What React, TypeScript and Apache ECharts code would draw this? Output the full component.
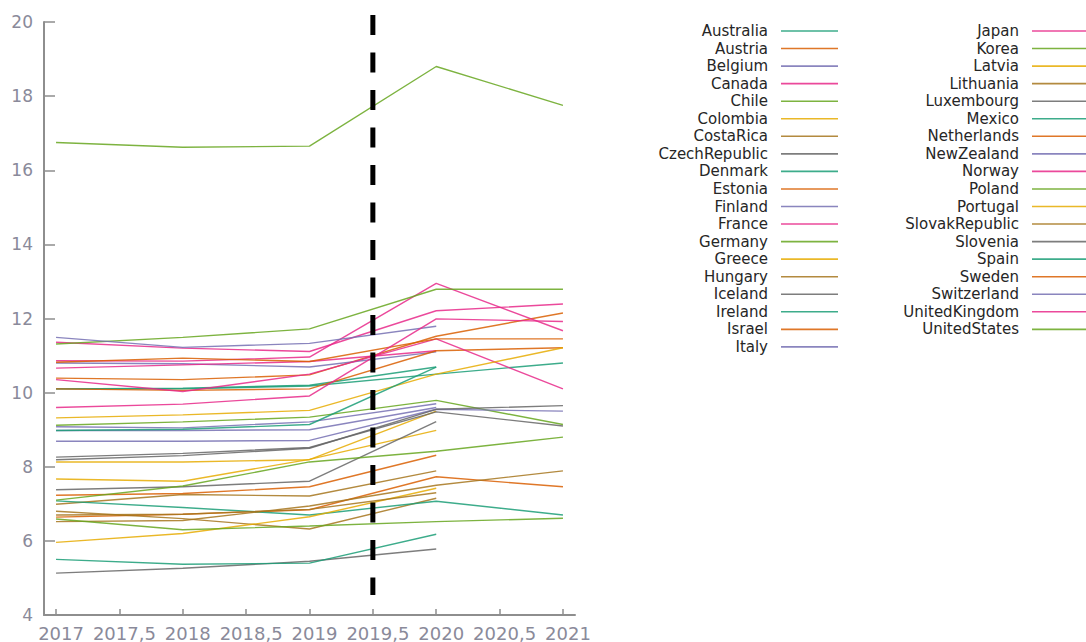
import React, { useEffect, useRef } from "react";
import * as echarts from "echarts";

const years = [2017, 2018, 2019, 2020, 2021];
const xTicks = [2017, 2017.5, 2018, 2018.5, 2019, 2019.5, 2020, 2020.5, 2021];

const countries = [
  "Australia", "Austria", "Belgium", "Canada", "Chile", "Colombia", "CostaRica", "CzechRepublic",
  "Denmark", "Estonia", "Finland", "France", "Germany", "Greece", "Hungary", "Iceland", "Ireland",
  "Israel", "Italy", "Japan", "Korea", "Latvia", "Lithuania", "Luxembourg", "Mexico", "Netherlands",
  "NewZealand", "Norway", "Poland", "Portugal", "SlovakRepublic", "Slovenia", "Spain", "Sweden",
  "Switzerland", "UnitedKingdom", "UnitedStates",
];

const Australia = [10.1, 10.12, 10.2, 10.69, null];
const Austria = [10.39, 10.35, 10.48, 11.52, 12.15];
const Belgium = [10.8, 10.78, 10.69, 11.1, null];
const Canada = [10.86, 10.85, 10.96, 12.95, 11.67];
const Chile = [9.12, 9.21, 9.34, 9.79, 9.14];
const Colombia = [7.67, 7.61, 8.2, 8.98, null];
const CostaRica = [6.99, 7.25, 7.21, 7.89, null];
const CzechRepublic = [7.38, 7.46, 7.61, 9.22, null];
const Denmark = [10.1, 10.1, 10.18, 10.5, 10.8];
const Estonia = [6.64, 6.72, 6.84, 7.73, 7.46];
const Finland = [9.08, 9.05, 9.21, 9.7, null];
const France = [11.36, 11.2, 11.11, 12.21, 12.39];
const Germany = [11.31, 11.49, 11.72, 12.79, 12.79];
const Greece = [8.13, 8.13, 8.19, 9.5, null];
const Hungary = [6.8, 6.6, 6.32, 7.15, null];
const Iceland = [8.26, 8.36, 8.52, 9.48, 9.1];
const Ireland = [7.08, 6.9, 6.7, 7.07, 6.7];
const Israel = [7.23, 7.28, 7.46, 8.31, null];
const Italy = [8.69, 8.69, 8.71, 9.55, 9.5];
const Japan = [10.66, 10.75, 10.84, 11.13, null];
const Korea = [7.1, 7.48, 8.13, 8.42, 8.8];
const Latvia = [5.96, 6.2, 6.65, 7.42, null];
const Lithuania = [6.52, 6.55, 6.94, 7.5, 7.89];
const Luxembourg = [5.13, 5.26, 5.45, 5.78, null];
const Mexico = [5.5, 5.37, 5.4, 6.18, null];
const Netherlands = [10.1, 10.06, 10.1, 11.13, 11.21];
const NewZealand = [8.98, 8.98, 9.0, 9.6, null];
const Norway = [10.35, 10.03, 10.5, 11.45, 10.1];
const Poland = [6.59, 6.3, 6.4, 6.52, 6.61];
const Portugal = [9.32, 9.4, 9.52, 10.5, 11.21];
const SlovakRepublic = [6.7, 6.72, 6.85, 7.3, null];
const Slovenia = [8.19, 8.3, 8.5, 9.55, 9.65];
const Spain = [8.98, 9.01, 9.14, 10.69, null];
const Sweden = [10.82, 10.93, 10.84, 11.45, 11.45];
const Switzerland = [11.49, 11.22, 11.33, 11.79, null];
const UnitedKingdom = [9.6, 9.69, 9.91, 11.99, 11.92];
const UnitedStates = [16.75, 16.62, 16.65, 18.8, 17.75];

const values = [
  Australia, Austria, Belgium, Canada, Chile, Colombia, CostaRica, CzechRepublic,
  Denmark, Estonia, Finland, France, Germany, Greece, Hungary, Iceland, Ireland,
  Israel, Italy, Japan, Korea, Latvia, Lithuania, Luxembourg, Mexico, Netherlands,
  NewZealand, Norway, Poland, Portugal, SlovakRepublic, Slovenia, Spain, Sweden,
  Switzerland, UnitedKingdom, UnitedStates,
];

const palette = ["#1b9e77", "#d95f02", "#7570b3", "#e7298a", "#66a61e", "#e6ab02", "#a6761d", "#666666"];
const cutoffYear = 2019.5;
const cutoffRange = [20.19, 4.54];

export default function App() {
  const ref = useRef<HTMLDivElement>(null);
  useEffect(() => {
    if (!ref.current) return;
    const chart = echarts.init(ref.current, null, { renderer: "svg" });
    const font = "DejaVu Sans";
    const axisColor = "#8e8e8e";
    const labelColor = "#8a8a9a";

    const series: any[] = countries.map((name, i) => ({
      name,
      type: "line",
      symbol: "none",
      data: years.map((y, j) => [y, values[i][j]]).filter((p) => p[1] !== null),
      lineStyle: { color: palette[i % 8], width: 1.4, opacity: 0.85 },
      itemStyle: { color: palette[i % 8], opacity: 0.85 },
      z: 2,
    }));
    series.push({
      name: "cutoff",
      type: "line",
      symbol: "none",
      clip: false,
      silent: true,
      z: 5,
      data: cutoffRange.map((v) => [cutoffYear, v]),
      lineStyle: { color: "#000", width: 5, type: [20, 17.5] },
    });

    const legends = countries.map((name, i) => {
      const col = i < 19 ? 0 : 1;
      const row = col ? i - 19 : i;
      return {
        data: [name],
        orient: "vertical",
        align: "right",
        icon: "rect",
        right: col ? -3 : 248,
        top: 31 - 7.5 + row * 17.55,
        padding: 0,
        itemGap: 0,
        itemWidth: 57,
        itemHeight: 1.6,
        selectedMode: false,
        textStyle: {
          fontSize: 15,
          lineHeight: 15,
          fontFamily: font,
          color: "#262626",
          padding: [0, 8, 0, 0],
        },
      };
    });

    chart.setOption({
      animation: false,
      backgroundColor: "#fff",
      legend: legends,
      grid: { left: 44, right: 511, top: 22, bottom: 25, containLabel: false },
      xAxis: {
        type: "value",
        min: 2016.905,
        max: 2021.095,
        splitLine: { show: false },
        axisLine: { show: true, lineStyle: { color: axisColor, width: 2 } },
        axisTick: { show: true, inside: true, length: 6, customValues: xTicks, lineStyle: { color: axisColor, width: 1.5 } },
        axisLabel: {
          customValues: xTicks,
          interval: 0,
          hideOverlap: false,
          formatter: (v: number) => String(v).replace(".", ","),
          fontSize: 18,
          fontFamily: font,
          color: labelColor,
          margin: 9,
          padding: [0, 0, 0, 10],
        },
      },
      yAxis: {
        type: "value",
        min: 4,
        max: 20,
        interval: 2,
        splitLine: { show: false },
        axisLine: { show: true, lineStyle: { color: axisColor, width: 2 } },
        axisTick: { show: true, inside: true, length: 11, lineStyle: { color: axisColor, width: 1.5 } },
        axisLabel: { fontSize: 17, fontFamily: font, color: labelColor, margin: 11 },
      },
      series,
    });
    return () => chart.dispose();
  }, []);
  return <div ref={ref} style={{ position: "absolute", left: 0, top: 0, width: 1086, height: 642 }} />;
}
